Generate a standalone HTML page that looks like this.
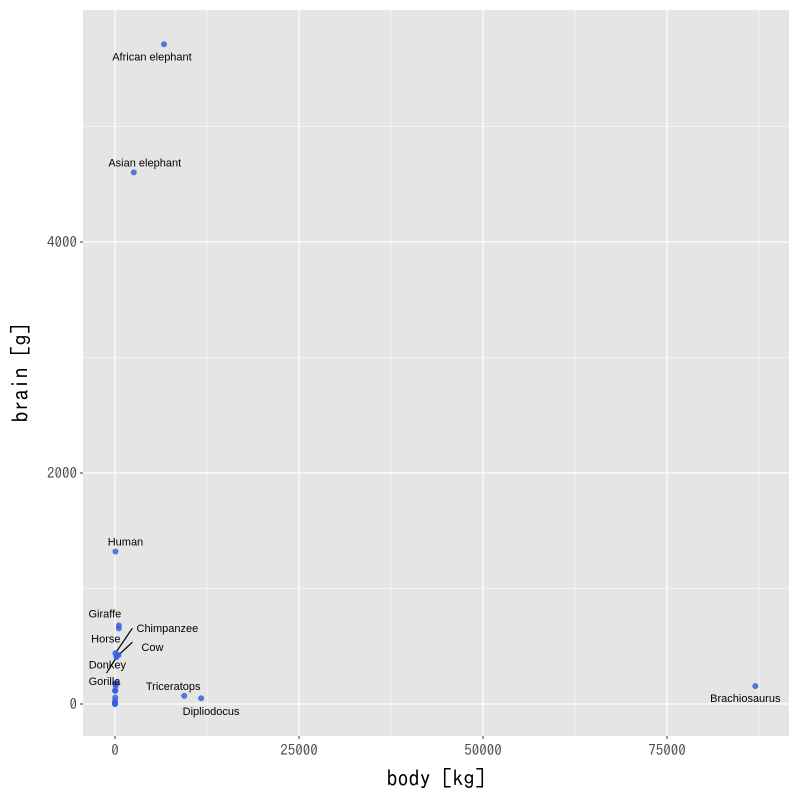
<!DOCTYPE html>
<html><head><meta charset="utf-8"><style>
body{margin:0;background:#fff}
svg text{font-family:"Liberation Sans",sans-serif}
.ax{font-family:"IPAGothic","Liberation Sans",sans-serif}
</style></head><body>
<svg id="c" width="800" height="800" xmlns="http://www.w3.org/2000/svg">
<rect x="83" y="10" width="706" height="726" fill="#e5e5e5"/>
<g id="grid"></g><g id="segs"></g><g id="pts"></g><g id="labs"></g><g id="ticks"></g>
<text class="ax" x="436" y="786" font-size="22" text-anchor="middle" fill="#000">body [kg]</text>
<text class="ax" x="28" y="373" font-size="22" text-anchor="middle" fill="#000" transform="rotate(-90 28 373)">brain [g]</text>
</svg>
<script>
const names=["Mountain beaver","Cow","Grey wolf","Goat","Guinea pig","Dipliodocus","Asian elephant","Donkey","Horse","Potar monkey","Cat","Giraffe","Gorilla","Human","African elephant","Triceratops","Rhesus monkey","Kangaroo","Golden hamster","Mouse","Rabbit","Sheep","Jaguar","Chimpanzee","Rat","Brachiosaurus","Mole","Pig"];
const body=[1.35,465,36.33,27.66,1.04,11700,2547,187.1,521,10,3.3,529,207,62,6654,9400,6.8,35,0.12,0.023,2.5,55.5,100,52.16,0.28,87000,0.122,192];
const brain=[8.1,423,119.5,115,5.5,50,4603,419,655,115,25.6,680,406,1320,5712,70,179,56,1,0.4,12.1,175,157,440,1.9,154.5,3,180];
const xTicks=[0,25000,50000,75000];
const yTicks=[0,2000,4000];
const labelOff={"African elephant":[-12,12],"Asian elephant":[11,-10],"Human":[10,-10],"Giraffe":[-14,-12],"Chimpanzee":[52,-25],"Horse":[-13,10],"Cow":[34,-8],"Donkey":[-9,9],"Gorilla":[-12,24],"Triceratops":[-11,-10],"Dipliodocus":[10,13],"Brachiosaurus":[-10,12]};
const segFor={"Chimpanzee":[17,-25],"Cow":[14,-13],"Gorilla":[-10,16]};
const X=v=>115+v*184/25000, Y=v=>704-v*231/2000;
const NS="http://www.w3.org/2000/svg";
function mk(p,t,a){const e=document.createElementNS(NS,t);for(const k in a)e.setAttribute(k,a[k]);document.getElementById(p).appendChild(e);return e;}
[12500,37500,62500,87500].forEach(v=>{const e=mk('grid','line',{x1:X(v),x2:X(v),y1:10,y2:736,stroke:'#fff','stroke-width':0.6});

});
[1000,3000,5000].forEach(v=>{const e=mk('grid','line',{x1:83,x2:789,y1:Y(v),y2:Y(v),stroke:'#fff','stroke-width':0.6});

});
xTicks.forEach(v=>{const e=mk('grid','line',{x1:X(v),x2:X(v),y1:10,y2:736,stroke:'#fff','stroke-width':1.2});


const t=mk('ticks','text',{x:X(v),y:755,'font-size':15,'text-anchor':'middle',fill:'#4d4d4d',class:'ax'});t.textContent=v;


mk('ticks','line',{x1:X(v),x2:X(v),y1:736,y2:739,stroke:'#333'});});
yTicks.forEach(v=>{const e=mk('grid','line',{x1:83,x2:789,y1:Y(v),y2:Y(v),stroke:'#fff','stroke-width':1.2});


const t=mk('ticks','text',{x:77,y:Y(v)+5,'font-size':15,'text-anchor':'end',fill:'#4d4d4d',class:'ax'});t.textContent=v;


mk('ticks','line',{x1:80,x2:83,y1:Y(v),y2:Y(v),stroke:'#333'});});
names.forEach((n,i)=>{const px=X(body[i]),py=Y(brain[i]);
const c=mk('pts','circle',{cx:px,cy:py,r:3,fill:'#3a5fe0','fill-opacity':0.85});


if(labelOff[n]){const o=labelOff[n];
const t=mk('labs','text',{x:px+o[0],y:py+o[1]+4,'font-size':11,'text-anchor':'middle',fill:'#000'});t.textContent=n;


if(segFor[n]){const s=segFor[n];const l=mk('segs','line',{x1:px,y1:py,x2:px+s[0],y2:py+s[1],stroke:'#000','stroke-width':1.2});

}}});
</script>
</body></html>
